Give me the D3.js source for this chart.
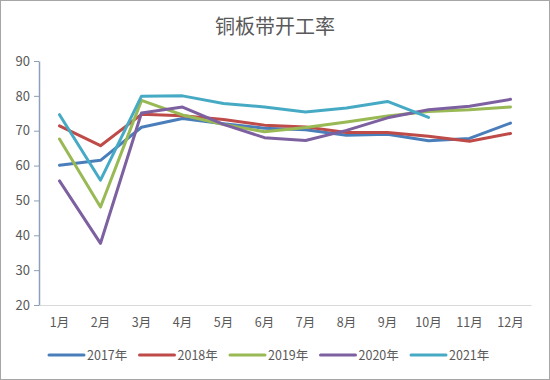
<!DOCTYPE html>
<html><head><meta charset="utf-8">
<script src="https://cdn.jsdelivr.net/npm/d3@7"></script>
<style>body{margin:0;background:#fff}</style>
</head><body>
<svg id="c" width="550" height="380"></svg>
<script>
const months = ["1月","2月","3月","4月","5月","6月","7月","8月","9月","10月","11月","12月"];
const yTicks = [20,30,40,50,60,70,80,90];
const seriesNames = ["2017年","2018年","2019年","2020年","2021年"];
const colors = ["#4a7ebb","#be4b48","#98b954","#7d60a0","#46aac5"];
const v2017 = [60.1,61.5,71.0,73.5,72.0,70.7,70.3,68.7,69.0,67.1,67.8,72.2];
const v2018 = [71.4,65.7,74.7,74.3,73.2,71.6,71.1,69.5,69.5,68.4,67.0,69.2];
const v2019 = [67.6,48.1,78.7,74.5,71.8,69.7,70.9,72.5,74.2,75.5,76.0,76.8];
const v2020 = [55.6,37.7,75.1,76.8,71.8,68.0,67.2,70.1,73.7,76.0,77.0,79.0];
const v2021 = [74.6,55.8,79.9,80.0,77.8,76.8,75.4,76.5,78.4,73.8];
const allSeries = [v2017,v2018,v2019,v2020,v2021];

const svg = d3.select("#c");
const font = "'Noto Sans CJK SC','Noto Sans',sans-serif";
svg.append("rect").attr("x",0.5).attr("y",0.5).attr("width",549).attr("height",379)
  .attr("fill","#fff").attr("stroke","#a6a6a6");

const x = d3.scaleBand().domain(months).range([39,531]);
const y = d3.scaleLinear().domain([20,90]).range([305,61]);

svg.append("text").attr("x",275).attr("y",34).attr("text-anchor","middle")
  .attr("font-family",font).attr("font-size",20).attr("fill","#595959").text("铜板带开工率");

// x axis
const xa = svg.append("g").attr("transform","translate(0,305)")
  .call(d3.axisBottom(x).tickSize(0).tickPadding(13));
xa.select(".domain").attr("stroke","#d9d9d9").attr("stroke-width",1);
xa.selectAll("text").attr("font-family",font).attr("font-size",12.5).attr("fill","#595959");

// y axis
const ya = svg.append("g").attr("transform","translate(39,0)")
  .call(d3.axisLeft(y).tickValues(yTicks).tickSize(5).tickSizeOuter(0).tickPadding(4));
ya.select(".domain").attr("stroke","#8da0b8").attr("stroke-width",1.5);
ya.selectAll(".tick line").attr("stroke","#8da0b8");
ya.selectAll("text").attr("font-family",font).attr("font-size",13).attr("fill","#595959");

const line = d3.line().x((d,i)=>x(months[i])+x.bandwidth()/2).y(d=>y(d));
allSeries.forEach((s,k)=>{
  svg.append("path").datum(s).attr("d",line).attr("fill","none")
    .attr("stroke",colors[k]).attr("stroke-width",3).attr("stroke-linejoin","round").attr("stroke-linecap","round");
});

// legend
const lg = svg.append("g");
seriesNames.forEach((n,k)=>{
  const lx = 49 + k*90.5;
  lg.append("line").attr("x1",lx).attr("x2",lx+35).attr("y1",355).attr("y2",355)
    .attr("stroke",colors[k]).attr("stroke-width",3).attr("stroke-linecap","round");
  lg.append("text").attr("x",lx+38).attr("y",360).attr("font-family",font).attr("font-size",12.5)
    .attr("fill","#595959").text(n);
});
</script>
</body></html>
